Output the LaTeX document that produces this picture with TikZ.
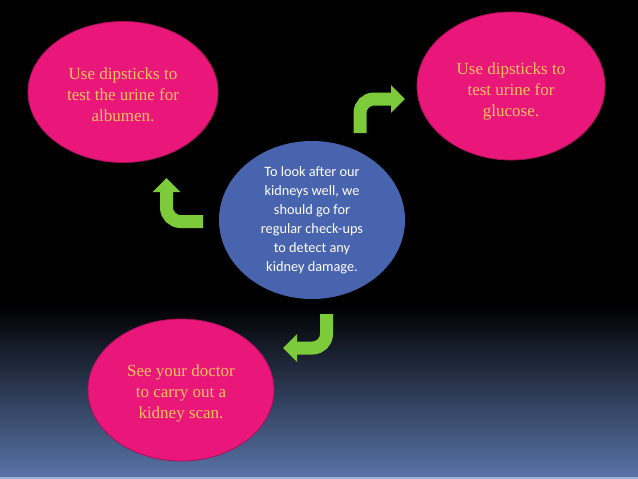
\documentclass[tikz,border=0pt]{standalone}
\usepackage{fontspec}
\setmainfont{Liberation Serif}
\newfontfamily\calib{Carlito}
\usetikzlibrary{shapes.geometric,arrows.meta}
\definecolor{pinkfill}{HTML}{EA177A}
\definecolor{pinkedge}{HTML}{A8105A}
\definecolor{bluefill}{HTML}{4864AE}
\definecolor{txtorange}{HTML}{F9C45C}
\definecolor{arrgreen}{HTML}{7DCB3A}
\definecolor{bgblue}{HTML}{5872A6}
\definecolor{bgstrip}{HTML}{9DB3D3}
\tikzset{
  pinkell/.style={ellipse, fill=pinkfill, draw=pinkedge, line width=0.8pt, inner sep=0pt},
  pinktext/.style={align=center, text=txtorange, font=\fontsize{17}{21}\selectfont},
  blueell/.style={ellipse, fill=bluefill, inner sep=0pt, align=center, text=white,
     font=\calib\fontsize{14.3}{19}\selectfont},
  bentarrow/.style={draw=arrgreen, line width=13pt, rounded corners=14pt,
     -{Triangle[width=27pt,length=14pt]}}
}
\begin{document}
\begin{tikzpicture}[x=1pt,y=-1pt]
\useasboundingbox (0,0) rectangle (638,479);
% background
\fill[black] (0,0) rectangle (638,306);
\foreach \i in {0,...,85} {
  \pgfmathsetmacro\p{100*\i/85}
  \fill[bgblue!\p!black] (0,305+2*\i) rectangle (638,307.6+2*\i);
}
\fill[bgstrip] (0,476.5) rectangle (638,479);
% ellipses
\node[pinkell, minimum width=190pt, minimum height=141pt,
  label={[pinktext, yshift=-3pt]center:{Use dipsticks to\\test the urine for\\albumen.}}] (tl) at (123,92) {};
\node[pinkell, minimum width=188pt, minimum height=148pt,
  label={[pinktext, yshift=-5pt]center:{Use dipsticks to\\test urine for\\glucose.}}] (tr) at (511,86) {};
\node[pinkell, minimum width=186pt, minimum height=142pt,
  label={[pinktext, yshift=-3.5pt]center:{See your doctor\\to carry out a\\kidney scan.}}] (bl) at (181,390) {};
\node[blueell, minimum width=186pt, minimum height=158pt] (c) at (312,220)
  {To look after our\\kidneys well, we\\should go for\\regular check-ups\\to detect any\\kidney damage.};
% arrows
\coordinate (a1s) at (203,221.5);
\coordinate (a1c) at (166.5,221.5);
\coordinate (a1e) at (166.5,178);
\draw[bentarrow] (a1s) -- (a1c) -- (a1e);
\coordinate (a2s) at (360,133);
\coordinate (a2c) at (360,99);
\coordinate (a2e) at (405,99);
\draw[bentarrow] (a2s) -- (a2c) -- (a2e);
\coordinate (a3s) at (326.5,314);
\coordinate (a3c) at (326.5,348);
\coordinate (a3e) at (283,348);
\draw[bentarrow] (a3s) -- (a3c) -- (a3e);
\end{tikzpicture}
\end{document}
